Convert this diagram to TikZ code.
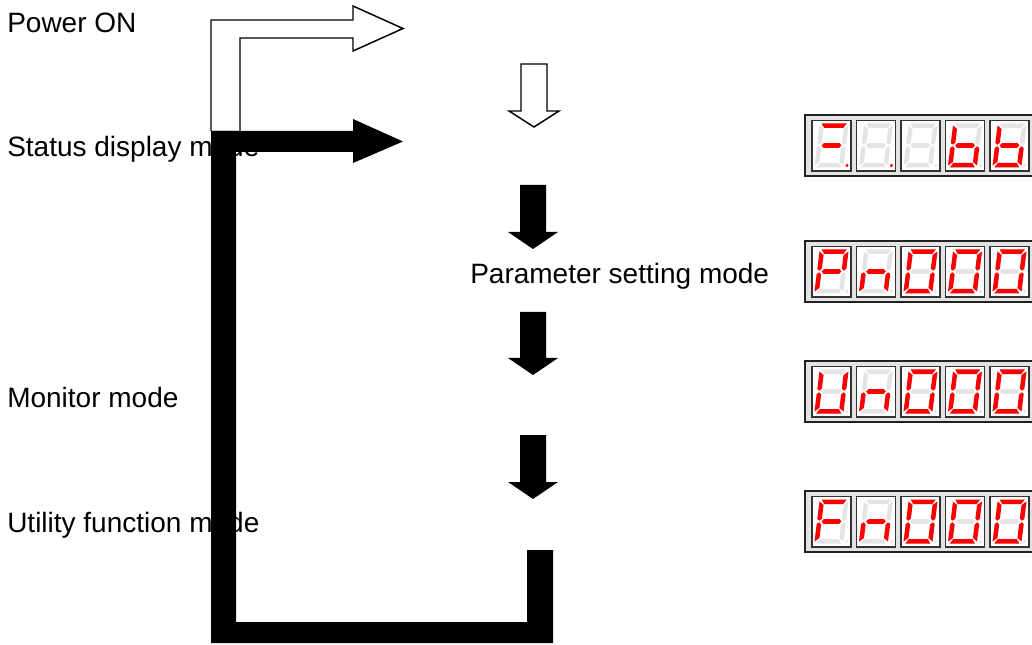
\documentclass[tikz,border=0pt]{standalone}
\usepackage{fontspec}
\setmainfont{Liberation Sans}

\definecolor{segoff}{HTML}{E4E4E4}
\definecolor{segon}{HTML}{FF0000}
\definecolor{panel}{HTML}{E3E3E3}
\definecolor{rim}{HTML}{222222}

% segments of one digit, digit centre at the origin
\newcommand{\digsega}{(-12.5,-22) -- (12.5,-22) -- (9.5,-17.5) -- (-9.5,-17.5) -- cycle}
\newcommand{\digsegd}{(-12.5,22) -- (12.5,22) -- (9.5,17.5) -- (-9.5,17.5) -- cycle}
\newcommand{\digsegb}{(14.5,-20) -- (14.5,-2.5) -- (12.2,-0.8) -- (10,-3) -- (10,-16.5) -- cycle}
\newcommand{\digsegc}{(14.5,20) -- (14.5,2.5) -- (12.2,0.8) -- (10,3) -- (10,16.5) -- cycle}
\newcommand{\digsegf}{(-14.5,-20) -- (-14.5,-2.5) -- (-12.2,-0.8) -- (-10,-3) -- (-10,-16.5) -- cycle}
\newcommand{\digsege}{(-14.5,20) -- (-14.5,2.5) -- (-12.2,0.8) -- (-10,3) -- (-10,16.5) -- cycle}
\newcommand{\digsegg}{(-9.8,0) -- (-7.8,-2.3) -- (7.8,-2.3) -- (9.8,0) -- (7.8,2.3) -- (-7.8,2.3) -- cycle}
\newcommand{\digsegx}{}

% lit segments of each sign
\newcommand{\dgminus}{a,g}
\newcommand{\dgblank}{x}
\newcommand{\dgb}{c,d,e,f,g}
\newcommand{\dgP}{a,b,e,f,g}
\newcommand{\dgn}{c,e,g}
\newcommand{\dgO}{a,b,c,d,e,f}
\newcommand{\dgU}{b,c,d,e,f}
\newcommand{\dgF}{a,e,f,g}

% #1 top of the panel, #2 list of sign/dot colour
\newcommand{\segpanel}[2]{%
  \fill[panel, draw=rim, line width=1.5] (805,#1) rectangle (1040,#1+61);
  \foreach \d/\pt [count=\i from 0] in {#2} {
    \pgfmathsetmacro\cx{831.5+44.5*\i}
    \edef\segs{\csname dg\d\endcsname}
    \fill[white, draw=black!80, line width=0.9] (\cx-19.5,#1+5.5) rectangle (\cx+19.5,#1+56);
    \begin{scope}[shift={(\cx,#1+30.5)}, xslant=0.125]
      \foreach \s in {a,b,c,d,e,f,g} {\fill[segoff] \csname digseg\s\endcsname;}
      \foreach \s in \segs {\fill[segon] \csname digseg\s\endcsname;}
      \fill[\pt] (18,20) circle[radius=1.7];
    \end{scope}
  }}

\begin{document}
\begin{tikzpicture}[
    x=0.75pt, y=-0.75pt,
    lbl/.style={font=\fontsize{21}{25}\selectfont, inner sep=0pt, anchor=base west},
    hollow/.style={fill=white, draw=black, line width=1.1},
    solid/.style={fill=black}
  ]
  \useasboundingbox (0,0) rectangle (1032,645);

  \node[lbl] (poweron) at (7,33) {Power ON};
  \node[lbl] (status) at (7,157) {Status display mode};
  \node[lbl] (param) at (470,284) {Parameter setting mode};
  \node[lbl] (monitor) at (7,407) {Monitor mode};
  \node[lbl] (utility) at (7,532) {Utility function mode};

  \segpanel{115}{minus/segon, blank/segon, blank/segoff, b/segoff, b/segoff}
  \segpanel{241}{P/segoff, n/segoff, O/segoff, O/segoff, O/segoff}
  \segpanel{361}{U/segoff, n/segoff, O/segoff, O/segoff, O/segoff}
  \segpanel{491}{F/segoff, n/segoff, O/segoff, O/segoff, O/segoff}

  % power on
  \path[hollow] (211,131) -- (211,20) -- (353,20) -- (353,6) -- (403,28.5)
    -- (353,51) -- (353,38) -- (240,38) -- (240,131);
  \path[hollow] (521,64) -- (547,64) -- (547,111) -- (559,111) -- (534,127)
    -- (509,111) -- (521,111) -- cycle;

  % mode loop
  \path[solid] (211,131) -- (353,131) -- (353,119) -- (403,141.5) -- (353,163)
    -- (353,152) -- (211,152) -- cycle;
  \foreach \ytop/\ybase/\ytip in {185/232/249, 312/358/375, 435/482/499}
    \path[solid] (520,\ytop) -- (546,\ytop) -- (546,\ybase) -- (558,\ybase)
      -- (533,\ytip) -- (508,\ybase) -- (520,\ybase) -- cycle;
  \path[solid] (211,131) -- (236,131) -- (236,622) -- (527,622) -- (527,550)
    -- (553,550) -- (553,643) -- (211,643) -- cycle;
\end{tikzpicture}
\end{document}
